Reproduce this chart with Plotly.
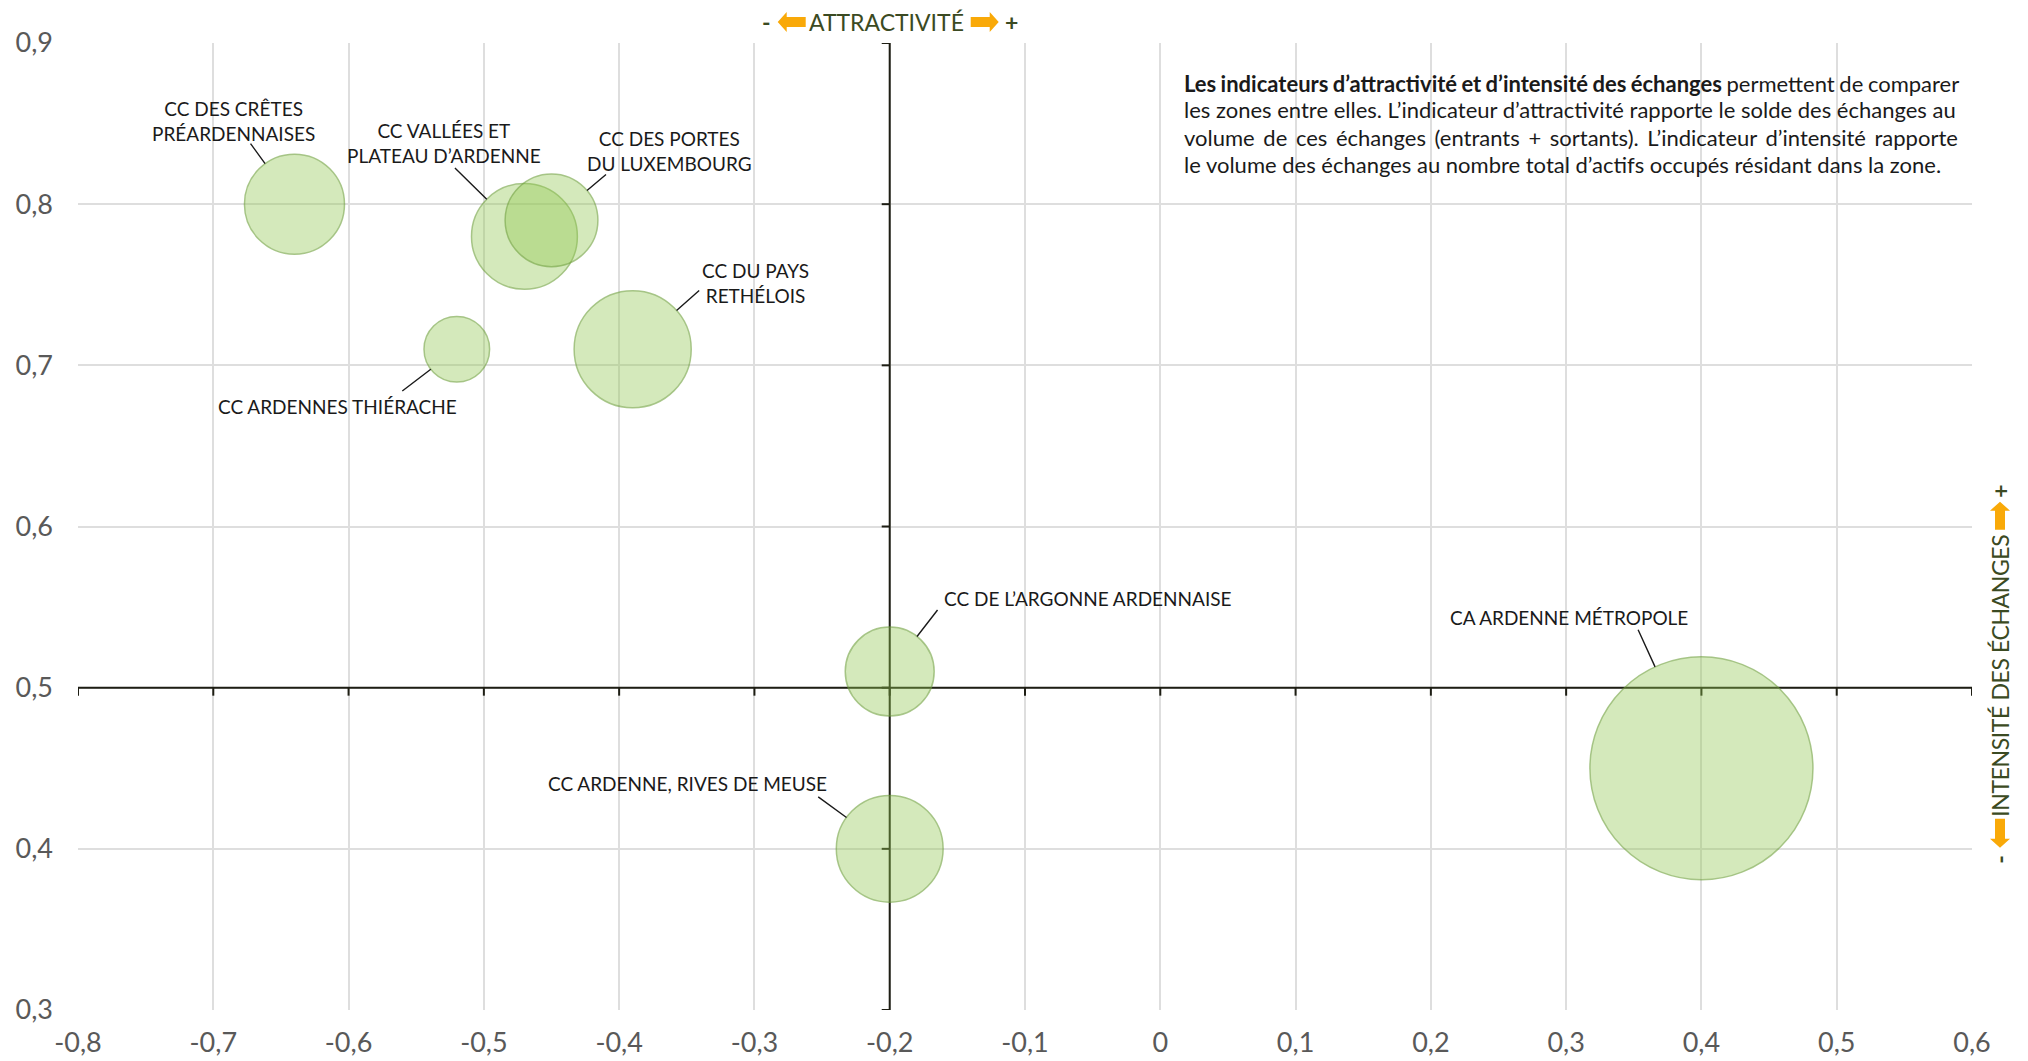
import math
import plotly.graph_objects as go

# ---------------- data ----------------
zones = [
    "CC DES CRÊTES<br>PRÉARDENNAISES",
    "CC VALLÉES ET<br>PLATEAU D’ARDENNE",
    "CC DES PORTES<br>DU LUXEMBOURG",
    "CC DU PAYS<br>RETHÉLOIS",
    "CC ARDENNES THIÉRACHE",
    "CC DE L’ARGONNE ARDENNAISE",
    "CC ARDENNE, RIVES DE MEUSE",
    "CA ARDENNE MÉTROPOLE",
]
attractivite = [-0.64, -0.47, -0.45, -0.39, -0.52, -0.20, -0.20, 0.40]
intensite = [0.80, 0.78, 0.79, 0.71, 0.71, 0.51, 0.40, 0.45]
volume = [10000, 11200, 8600, 13700, 4300, 7900, 11400, 49700]

x_ticks = [-0.8, -0.7, -0.6, -0.5, -0.4, -0.3, -0.2, -0.1, 0, 0.1, 0.2, 0.3, 0.4, 0.5, 0.6]
x_tick_labels = ["-0,8", "-0,7", "-0,6", "-0,5", "-0,4", "-0,3", "-0,2", "-0,1", "0",
                 "0,1", "0,2", "0,3", "0,4", "0,5", "0,6"]
y_ticks = [0.3, 0.4, 0.5, 0.6, 0.7, 0.8, 0.9]
y_tick_labels = ["0,3", "0,4", "0,5", "0,6", "0,7", "0,8", "0,9"]

x_cross = -0.2   # vertical axis position (attractivité)
y_cross = 0.5    # horizontal axis position (intensité)

x_title = "ATTRACTIVITÉ"
y_title = "INTENSITÉ DES ÉCHANGES"

note_lines = [
    "<b>Les indicateurs d’attractivité et d’intensité des échanges</b> permettent de comparer",
    "les zones entre elles. L’indicateur d’attractivité rapporte le solde des échanges au",
    "volume de ces échanges (entrants + sortants). L’indicateur d’intensité rapporte",
    "le volume des échanges au nombre total d’actifs occupés résidant dans la zone.",
]

# ---------------- layout helpers (pixel offsets of labels) ----------------
# (leader start dx, dy, label dx, dy, label xanchor)
label_pos = [
    (-45, -62, -61, -83, "center"),
    (-71, -70, -80, -93, "center"),
    (56, -47, 118, -69, "center"),
    (68, -60, 123, -66, "center"),
    (-56, 43, -119, 57, "center"),
    (49, -63, 52, -73, "left"),
    (-73, -53, -202, -65, "center"),
    (-64, -140, -132, -151, "center"),
]
note_word_spacing = [-1, 0, 3, 0]

FONT = "Lato, 'Open Sans', 'DejaVu Sans', sans-serif"
OFF = 8                      # default body margin of the html page
W, H = 2028 - OFF, 1061 - OFF
PL, PR, PT, PB = 78 - OFF, 56, 43 - OFF, 51
PW, PH = W - PL - PR, H - PT - PB


def px_to_paper_x(px):       # px = position on the page
    return (px - OFF - PL) / PW


def px_to_paper_y(py):
    return (H - PB - (py - OFF)) / PH


max_diam = 223
sizeref = 2.0 * max(volume) / (max_diam ** 2)

fig = go.Figure()
fig.add_trace(go.Scatter(
    x=attractivite, y=intensite, mode="markers",
    marker=dict(size=volume, sizemode="area", sizeref=sizeref,
                color="rgba(145,200,80,0.55)",
                line=dict(color="rgba(110,160,60,0.85)", width=1.5)),
    hovertext=zones, hoverinfo="text", showlegend=False,
))

shapes = []
axis_col = "#1e1e14"
shapes.append(dict(type="line", xref="x", yref="y", x0=x_cross, x1=x_cross,
                   y0=y_ticks[0], y1=y_ticks[-1], layer="between",
                   line=dict(color=axis_col, width=2)))
shapes.append(dict(type="line", xref="x", yref="y", x0=x_ticks[0], x1=x_ticks[-1],
                   y0=y_cross, y1=y_cross, layer="between",
                   line=dict(color=axis_col, width=2)))
for t in x_ticks:
    shapes.append(dict(type="line", xref="x", yref="y", x0=t, x1=t,
                       ysizemode="pixel", yanchor=y_cross, y0=0, y1=-8,
                       layer="between", line=dict(color=axis_col, width=2)))
for t in y_ticks:
    shapes.append(dict(type="line", xref="x", yref="y", y0=t, y1=t,
                       xsizemode="pixel", xanchor=x_cross, x0=-8, x1=0,
                       layer="between", line=dict(color=axis_col, width=2)))

annotations = []
for name, xv, yv, vol, pos in zip(zones, attractivite, intensite, volume, label_pos):
    r = math.sqrt(vol / (2.0 * sizeref))
    ldx, ldy, tdx, tdy, anc = pos
    annotations.append(dict(x=xv, y=yv, xref="x", yref="y", text="",
                            showarrow=True, arrowhead=0, arrowwidth=1.4,
                            arrowcolor="#1a1a1a", ax=ldx, ay=ldy, standoff=r))
    annotations.append(dict(x=xv, y=yv, xref="x", yref="y", text=name,
                            showarrow=False, xshift=tdx, yshift=-tdy,
                            xanchor=anc, yanchor="middle", align="center",
                            font=dict(family=FONT, size=19, color="#1a1a1a")))

# explanatory note (one annotation per line)
note_y_px = [83, 110, 137, 165]
for line, ypx, ws in zip(note_lines, note_y_px, note_word_spacing):
    annotations.append(dict(xref="paper", yref="paper",
                            x=px_to_paper_x(1182), y=px_to_paper_y(ypx),
                            text=f"<span style='word-spacing:{ws}px'>{line}</span>",
                            showarrow=False, xanchor="left", yanchor="middle",
                            align="left", font=dict(family=FONT, size=22, color="#1a1a1a")))

# ---------- axis titles with orange block arrows ----------
title_col = "#3b4a22"
arrow_col = "#f9a908"
tfont = dict(family=FONT, size=23, color=title_col)


def block_arrow(tip, tail, direction):
    """direction 'h' (along x) or 'v' (along y); tip/tail in px along that axis."""
    s = 1 if tail > tip else -1
    hd = tip + s * 9
    if direction == "h":
        pts = [(tip, 0), (hd, 10), (hd, 5), (tail, 5), (tail, -5), (hd, -5), (hd, -10)]
    else:
        pts = [(0, tip), (10, hd), (5, hd), (5, tail), (-5, tail), (-5, hd), (-10, hd)]
    return "M" + " L".join(f"{a},{b}" for a, b in pts) + " Z"


ty = px_to_paper_y(22)
annotations.append(dict(xref="x", yref="paper", x=x_cross, y=ty, xshift=-3,
                        text=x_title, showarrow=False, xanchor="center",
                        yanchor="middle", font=tfont))
annotations.append(dict(xref="x", yref="paper", x=x_cross, y=ty, xshift=-123,
                        text="<b>-</b>", showarrow=False, xanchor="center",
                        yanchor="middle", font=tfont))
annotations.append(dict(xref="x", yref="paper", x=x_cross, y=ty, xshift=122,
                        text="<b>+</b>", showarrow=False, xanchor="center",
                        yanchor="middle", font=tfont))
for tip, tail in [(-112, -84), (109, 81)]:
    shapes.append(dict(type="path", xref="x", yref="paper",
                       xsizemode="pixel", xanchor=x_cross,
                       ysizemode="pixel", yanchor=ty,
                       path=block_arrow(tip, tail, "h"),
                       fillcolor=arrow_col, line=dict(width=0), layer="above"))

rx = px_to_paper_x(2000)
annotations.append(dict(xref="paper", yref="y", x=rx, y=y_cross, yshift=12,
                        text=f"<span style='letter-spacing:-0.4px'>{y_title}</span>",
                        showarrow=False, xanchor="center",
                        yanchor="middle", textangle=-90, font=tfont))
annotations.append(dict(xref="paper", yref="y", x=rx, y=y_cross, yshift=-172,
                        text="<b>-</b>", showarrow=False, xanchor="center",
                        yanchor="middle", textangle=-90, font=tfont))
annotations.append(dict(xref="paper", yref="y", x=rx, y=y_cross, yshift=196,
                        text="<b>+</b>", showarrow=False, xanchor="center",
                        yanchor="middle", textangle=-90, font=tfont))
for tip, tail in [(186, 158), (-160, -131)]:
    shapes.append(dict(type="path", xref="paper", yref="y",
                       xsizemode="pixel", xanchor=rx,
                       ysizemode="pixel", yanchor=y_cross,
                       path=block_arrow(tip, tail, "v"),
                       fillcolor=arrow_col, line=dict(width=0), layer="above"))

fig.update_layout(
    width=W, height=H,
    margin=dict(l=PL, r=PR, t=PT, b=PB, autoexpand=False),
    paper_bgcolor="white", plot_bgcolor="white",
    shapes=shapes, annotations=annotations,
    xaxis=dict(range=[x_ticks[0], x_ticks[-1]], tickvals=x_ticks, ticktext=x_tick_labels,
               showgrid=True, gridcolor="#dedede", gridwidth=1.5, zeroline=False,
               showline=False, ticks="", ticklabelstandoff=14,
               tickfont=dict(family=FONT, size=27, color="#595959")),
    yaxis=dict(range=[y_ticks[0], y_ticks[-1]], tickvals=y_ticks, ticktext=y_tick_labels,
               showgrid=True, gridcolor="#dedede", gridwidth=1.5, zeroline=False,
               showline=False, ticks="", ticklabelstandoff=24,
               tickfont=dict(family=FONT, size=27, color="#595959")),
)

fig.write_html("out.html")
